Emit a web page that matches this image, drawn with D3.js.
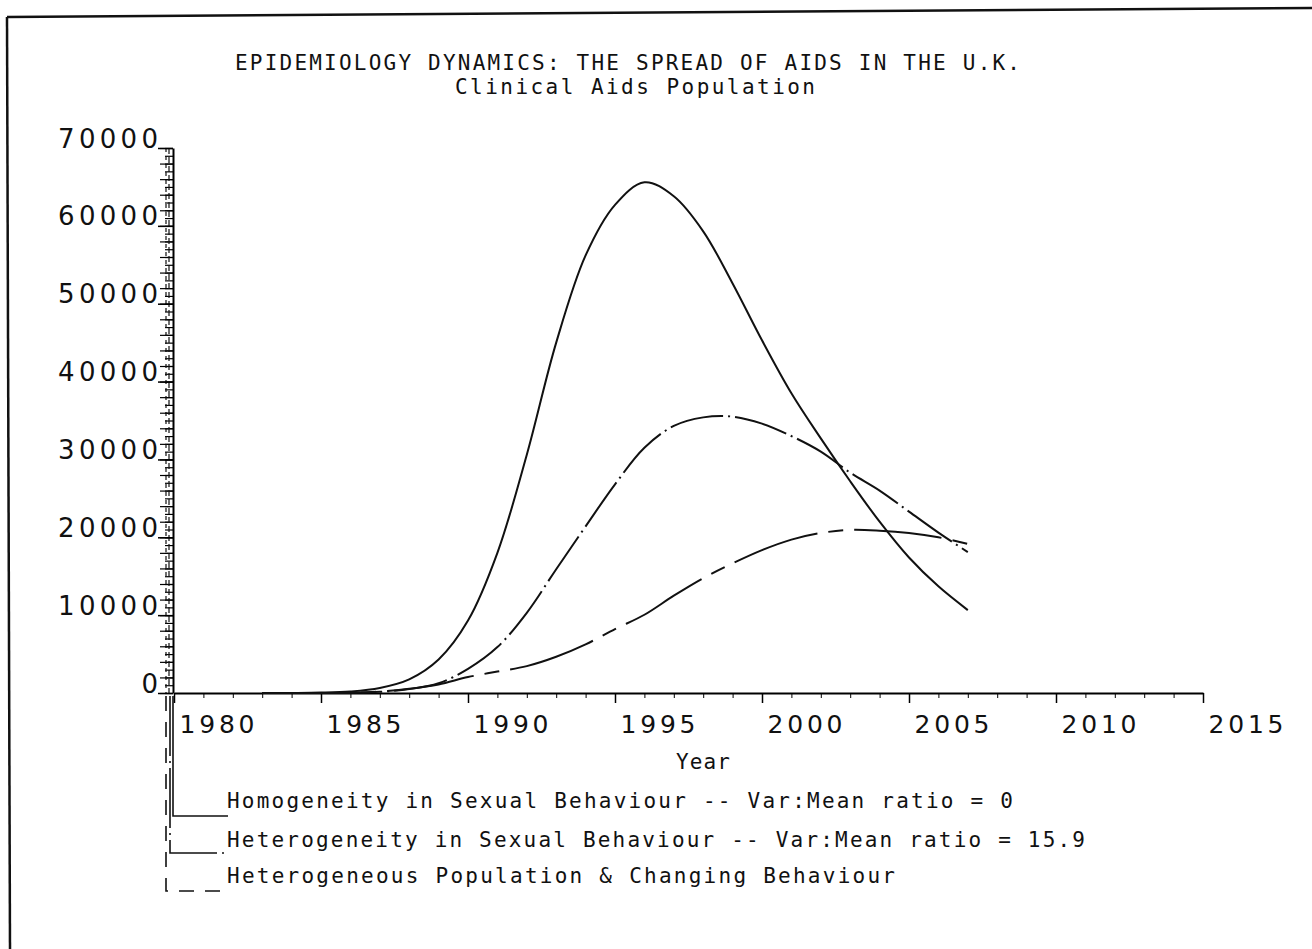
<!DOCTYPE html>
<html>
<head>
<meta charset="utf-8">
<script src="https://cdn.jsdelivr.net/npm/d3@7"></script>
<style>
body { margin: 0; background: #fff; }
svg { display: block; }
.mono { font-family: "DejaVu Sans Mono", monospace; font-size: 21px; fill: #111; }
</style>
</head>
<body>
<div id="chart"></div>
<script>
const width = 1312;
const height = 949;

const title = "EPIDEMIOLOGY DYNAMICS: THE SPREAD OF AIDS IN THE U.K.";
const subTitle = "Clinical Aids Population";
const xLabel = "Year";

// clinical AIDS cases
const years = [1983, 1984, 1985, 1986, 1987, 1988, 1989, 1990, 1991, 1992, 1993, 1994, 1995,
               1996, 1997, 1998, 1999, 2000, 2001, 2002, 2003, 2004, 2005, 2006, 2007];
const homogeneous   = [0, 10, 50, 200, 650, 1750, 4300, 9300, 18000, 30600, 45000, 56200, 62700,
                       65600, 63800, 59300, 52600, 45300, 38500, 32700, 27200, 22000, 17400, 13700, 10650];
const heterogeneous = [0, 0, 0, 30, 150, 500, 1250, 3100, 5900, 10300, 15900, 21400, 26800,
                       31500, 34300, 35400, 35500, 34600, 33000, 31000, 28300, 26000, 23300, 20600, 18100];
const changing      = [0, 0, 0, 0, 200, 550, 1100, 2050, 2750, 3450, 4650, 6250, 8200,
                       10050, 12500, 14750, 16650, 18350, 19700, 20550, 20950, 20850, 20550, 20000, 19150];

const xTicks = [1980, 1985, 1990, 1995, 2000, 2005, 2010, 2015];
const yTicks = [0, 10000, 20000, 30000, 40000, 50000, 60000, 70000];

const legendLabels = [
  "Homogeneity in Sexual Behaviour -- Var:Mean ratio = 0",
  "Heterogeneity in Sexual Behaviour -- Var:Mean ratio = 15.9",
  "Heterogeneous Population & Changing Behaviour"
];

const series = [
  { values: homogeneous,   dash: null },
  { values: heterogeneous, dash: "54,5,2,5" },
  { values: changing,      dash: "88,11,15,11" }
];

const svg = d3.select("#chart").append("svg")
  .attr("width", width)
  .attr("height", height);

const x = d3.scaleLinear().domain([1980, 2015]).range([174, 1203]);
const y = d3.scaleLinear().domain([0, 70000]).range([693, 148]);

// scanned page frame
svg.append("line").attr("x1", 7).attr("y1", 17).attr("x2", width).attr("y2", 8)
  .attr("stroke", "#111").attr("stroke-width", 2.5);
svg.append("line").attr("x1", 7).attr("y1", 17).attr("x2", 10).attr("y2", height)
  .attr("stroke", "#111").attr("stroke-width", 2.5);

// titles
svg.append("text").attr("class", "mono")
  .attr("x", 235).attr("y", 70)
  .attr("textLength", 785).attr("lengthAdjust", "spacing")
  .text(title);
svg.append("text").attr("class", "mono")
  .attr("x", 455).attr("y", 94)
  .attr("textLength", 360).attr("lengthAdjust", "spacing")
  .text(subTitle);

// x axis: minor ticks each year, major every 5
svg.append("g")
  .attr("transform", `translate(0,${y(0)})`)
  .call(d3.axisBottom(x).tickValues(d3.range(1980, 2016)).tickSize(5).tickSizeOuter(0).tickFormat(""))
  .call(g => g.select(".domain").attr("stroke-width", 2));

const xAxis = svg.append("g")
  .attr("transform", `translate(0,${y(0)})`)
  .call(d3.axisBottom(x).tickValues(xTicks).tickSize(10).tickSizeOuter(0).tickFormat(d3.format("d")));
xAxis.select(".domain").remove();
xAxis.selectAll(".tick line").attr("stroke-width", 1.5);
xAxis.selectAll(".tick text")
  .attr("text-anchor", "start")
  .attr("x", 5)
  .attr("y", 40)
  .attr("dy", null)
  .attr("textLength", 75)
  .attr("lengthAdjust", "spacing")
  .style("font-family", "'DejaVu Sans', sans-serif")
  .style("font-size", "25px")
  .style("fill", "#111");

svg.append("text").attr("class", "mono")
  .attr("x", 676).attr("y", 769)
  .attr("textLength", 54).attr("lengthAdjust", "spacing")
  .text(xLabel);

// y axis: dense ladder of ticks like the plotter output
svg.append("g")
  .attr("transform", `translate(${x(1980) - 1},0)`)
  .call(d3.axisLeft(y).tickValues(d3.range(0, 70001, 1000)).tickSize(8).tickSizeOuter(0).tickFormat(""))
  .call(g => g.select(".domain").attr("stroke-width", 2))
  .call(g => g.selectAll(".tick line").attr("stroke-width", 1.2));

svg.append("g")
  .attr("transform", `translate(${x(1980) - 1},0)`)
  .call(d3.axisLeft(y).tickValues(d3.range(0, 70001, 2000)).tickSize(13).tickSizeOuter(0).tickFormat(""))
  .call(g => g.select(".domain").remove())
  .call(g => g.selectAll(".tick line").attr("stroke-width", 1.2));

[166, 169].forEach((lx, i) => {
  svg.append("line")
    .attr("x1", lx).attr("x2", lx)
    .attr("y1", y(70000)).attr("y2", y(0))
    .attr("stroke", "#111").attr("stroke-width", 1.2)
    .attr("stroke-dasharray", i ? "6,3" : "4,4");
});

const yAxis = svg.append("g")
  .attr("transform", `translate(${x(1980) - 1},0)`)
  .call(d3.axisLeft(y).tickValues(yTicks).tickSize(15).tickSizeOuter(0).tickFormat(d3.format("d")));
yAxis.select(".domain").remove();
yAxis.selectAll(".tick line").attr("stroke-width", 1.5);
yAxis.selectAll(".tick text")
  .attr("x", -15)
  .attr("y", -1)
  .attr("dy", null)
  .attr("textLength", d => d ? 100 : null)
  .attr("lengthAdjust", "spacing")
  .style("font-family", "'DejaVu Sans', sans-serif")
  .style("font-size", "26px")
  .style("fill", "#111");

// curves
const line = d3.line()
  .x(d => x(d[0]))
  .y(d => Math.min(y(0), y(d[1])))
  .curve(d3.curveCatmullRom.alpha(0.5));

series.forEach(s => {
  svg.append("path")
    .datum(years.map((yr, i) => [yr, s.values[i]]))
    .attr("d", line)
    .attr("fill", "none")
    .attr("stroke", "#111")
    .attr("stroke-width", 2)
    .attr("stroke-dasharray", s.dash);
});

// legend: sample lines run down from the origin, then across
const legendRows = [
  { base: 808, lineY: 816, lx: 173, dash: null },
  { base: 847, lineY: 853, lx: 170, dash: "60,5,2,5" },
  { base: 883, lineY: 891, lx: 166, dash: "15,11" }
];
const legendWidths = [786, 858, 668];

legendRows.forEach((r, i) => {
  svg.append("path")
    .attr("d", `M${r.lx},${y(0) + 3}V${r.lineY}H228`)
    .attr("fill", "none")
    .attr("stroke", "#111")
    .attr("stroke-width", 1.6)
    .attr("stroke-dasharray", r.dash);
  svg.append("text").attr("class", "mono")
    .attr("x", 227).attr("y", r.base)
    .attr("textLength", legendWidths[i]).attr("lengthAdjust", "spacing")
    .text(legendLabels[i]);
});
</script>
</body>
</html>
